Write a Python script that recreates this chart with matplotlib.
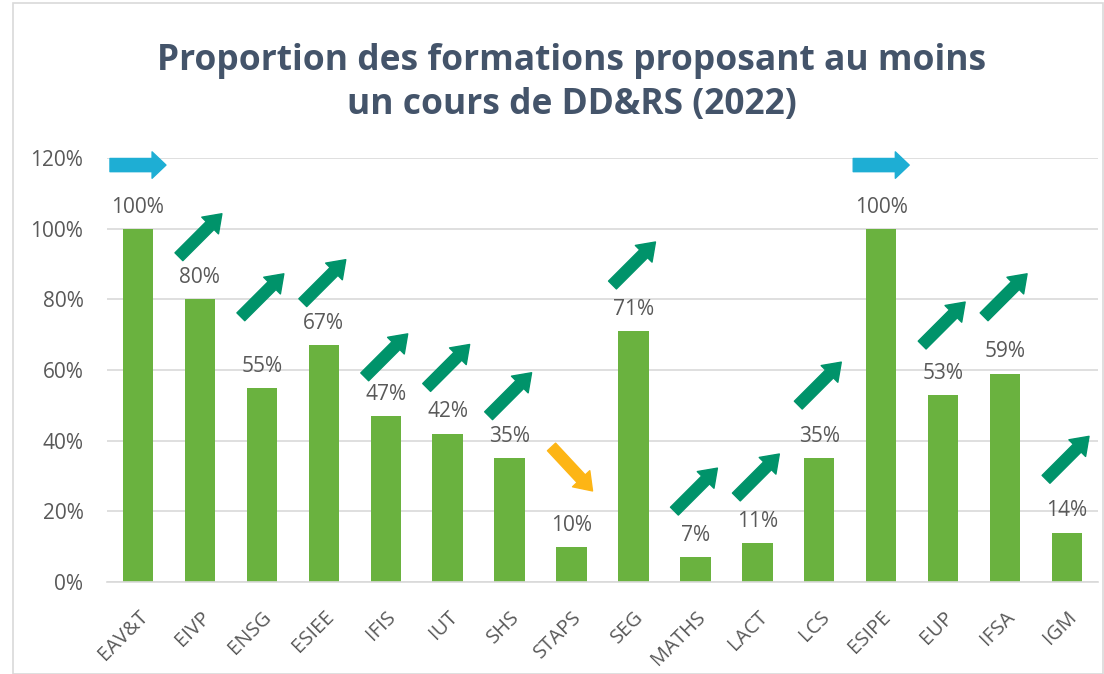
import matplotlib
matplotlib.use("Agg")
import matplotlib.pyplot as plt
from matplotlib.patches import Rectangle
from matplotlib.transforms import offset_copy

# Data
formations = ["EAV&T", "EIVP", "ENSG", "ESIEE", "IFIS", "IUT", "SHS", "STAPS",
              "SEG", "MATHS", "LACT", "LCS", "ESIPE", "EUP", "IFSA", "IGM"]
proportions = [100, 80, 55, 67, 47, 42, 35, 10, 71, 7, 11, 35, 100, 53, 59, 14]
# trend arrow shown above each bar: up / flat / down
trends = ["flat", "up", "up", "up", "up", "up", "up", "down",
          "up", "up", "up", "up", "flat", "up", "up", "up"]
# height of the arrow centre (in %)
arrow_levels = [118, 98, 81, 85, 64, 61, 53, 32, 90, 26, 30, 56, 118, 73, 81, 35]
yticks = [0, 20, 40, 60, 80, 100, 120]

plt.rcParams['font.family'] = ['Open Sans', 'DejaVu Sans']

bar_color = '#6AB23F'
text_color = '#595959'
grid_color = '#D9D9D9'
arrow_colors = {"up": '#00936A', "flat": '#1EAED4', "down": '#FDB515'}

fig = plt.figure(figsize=(11.04, 6.74), dpi=100)
fig.patch.set_facecolor('white')

# light frame around the chart
fig.patches.append(Rectangle((13 / 1104, 0), 1 - 14 / 1104, 1 - 3 / 674,
                             transform=fig.transFigure, fill=False,
                             edgecolor='#D9D9D9', linewidth=1.2))

ax = fig.add_axes([107 / 1104, 92 / 674, 991 / 1104, 424 / 674])
x = list(range(len(formations)))
ax.bar(x, proportions, width=0.49, color=bar_color, zorder=2)

ax.set_xlim(-0.5, len(formations) - 0.5)
ax.set_ylim(0, 120)
ax.set_yticks(yticks)
ax.set_yticklabels([f"{v}%" for v in yticks])
ax.set_xticks(x)
ax.set_xticklabels(formations, rotation=45, ha='right', rotation_mode='anchor')
ax.tick_params(axis='y', length=0, pad=17, labelsize=15, labelcolor=text_color)
ax.tick_params(axis='x', length=0, pad=18, labelsize=14.5, labelcolor=text_color)
ax.grid(axis='y', color=grid_color, linewidth=1.2, zorder=0)
for side in ['top', 'right', 'left']:
    ax.spines[side].set_visible(False)
ax.spines['bottom'].set_color(grid_color)
ax.spines['bottom'].set_linewidth(1.2)

# value labels
for i, v in enumerate(proportions):
    ax.annotate(f"{v}%", (i, v), xytext=(0, 8), textcoords='offset points',
                ha='center', va='bottom', fontsize=15, color=text_color)

# trend arrows
for i, (t, lvl) in enumerate(zip(trends, arrow_levels)):
    if t == "flat":
        tail = (-28, 0)
        head = (28, 0)
        style = 'simple,head_length=10,head_width=19,tail_width=9.5'
    elif t == "up":
        tail = (-21, -21)
        head = (22, 22)
        style = 'simple,head_length=12,head_width=17,tail_width=8'
    else:
        tail = (-20, 22)
        head = (21, -22)
        style = 'simple,head_length=12,head_width=17,tail_width=8'
    ax.annotate('',
                xy=(i, lvl), xycoords=offset_copy(ax.transData, fig=fig, x=head[0], y=head[1], units='dots'),
                xytext=(i, lvl), textcoords=offset_copy(ax.transData, fig=fig, x=tail[0], y=tail[1], units='dots'),
                arrowprops=dict(arrowstyle=style, color=arrow_colors[t], shrinkA=0, shrinkB=0,
                                mutation_scale=1),
                annotation_clip=False, zorder=3)

fig.text(0.518, 0.877, "Proportion des formations proposant au moins\nun cours de DD&RS (2022)",
         ha='center', va='center', fontsize=25.5, fontweight='bold', color='#44546A',
         linespacing=1.3)

fig.savefig("out.png", dpi=100)
